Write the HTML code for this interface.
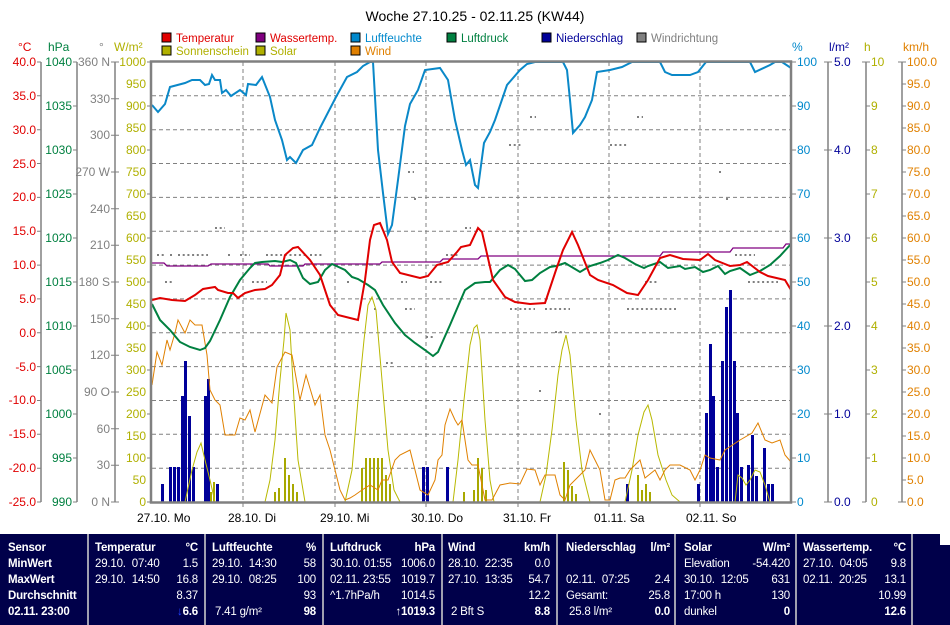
<!DOCTYPE html>
<html><head><meta charset="utf-8"><style>
html,body{margin:0;padding:0;background:#fff;}
svg{display:block;font-family:"Liberation Sans",sans-serif;}
.p{position:absolute;top:534px;left:0;width:940px;height:91px;background:#00004a;}
.p2{position:absolute;top:545px;left:940px;width:10px;height:80px;background:#00004a;}
.c{position:absolute;top:534px;height:91px;border-left:2px solid #a0a0b0;}
.t{position:absolute;color:#fff;font:11.5px "Liberation Sans",sans-serif;line-height:16px;white-space:pre;letter-spacing:-0.2px;}
.b{font-weight:bold;}
</style></head><body>
<div style="position:relative;width:950px;height:625px;overflow:hidden;">
<svg width="950" height="534" viewBox="0 0 950 534">
<text x="475" y="21" font-size="14" text-anchor="middle" fill="#000">Woche 27.10.25 - 02.11.25 (KW44)</text>
<g font-size="11.5">
<rect x="162" y="33" width="9" height="9" fill="#e00000" stroke="#000"/><text x="176" y="42" fill="#e00000">Temperatur</text>
<rect x="256" y="33" width="9" height="9" fill="#800080" stroke="#000"/><text x="270" y="42" fill="#e00000">Wassertemp.</text>
<rect x="351" y="33" width="9" height="9" fill="#0088cc" stroke="#000"/><text x="365" y="42" fill="#0088cc">Luftfeuchte</text>
<rect x="447" y="33" width="9" height="9" fill="#008040" stroke="#000"/><text x="461" y="42" fill="#008040">Luftdruck</text>
<rect x="542" y="33" width="9" height="9" fill="#000099" stroke="#000"/><text x="556" y="42" fill="#000099">Niederschlag</text>
<rect x="637" y="33" width="9" height="9" fill="#808080" stroke="#000"/><text x="651" y="42" fill="#808080">Windrichtung</text>
<rect x="162" y="46" width="9" height="9" fill="#b0b000" stroke="#000"/><text x="176" y="55" fill="#b0b000">Sonnenschein</text>
<rect x="256" y="46" width="9" height="9" fill="#b0b000" stroke="#000"/><text x="270" y="55" fill="#b0b000">Solar</text>
<rect x="351" y="46" width="9" height="9" fill="#e08000" stroke="#000"/><text x="365" y="55" fill="#e08000">Wind</text>
</g>
<g font-size="12">
<text x="18" y="51" fill="#e00000">°C</text><text x="48" y="51" fill="#008040">hPa</text><text x="99" y="51" fill="#808080">°</text><text x="114" y="51" fill="#b0b000">W/m²</text>
<text x="792" y="51" fill="#0088cc">%</text><text x="829" y="51" fill="#000099">l/m²</text><text x="864" y="51" fill="#b0b000">h</text><text x="903" y="51" fill="#e08000">km/h</text>
</g>
<g stroke="#808080" stroke-width="1.5">
<line x1="41" y1="62" x2="41" y2="502"/><line x1="77" y1="62" x2="77" y2="502"/><line x1="115" y1="62" x2="115" y2="502"/>
<line x1="828" y1="62" x2="828" y2="502"/><line x1="866" y1="62" x2="866" y2="502"/><line x1="902" y1="62" x2="902" y2="502"/>
</g>
<g font-size="12" text-anchor="end" fill="#e00000">
<text x="36" y="66">40.0</text><text x="36" y="100">35.0</text><text x="36" y="134">30.0</text><text x="36" y="168">25.0</text><text x="36" y="201">20.0</text><text x="36" y="235">15.0</text><text x="36" y="269">10.0</text><text x="36" y="303">5.0</text><text x="36" y="337">0.0</text><text x="36" y="371">-5.0</text><text x="36" y="404">-10.0</text><text x="36" y="438">-15.0</text><text x="36" y="472">-20.0</text><text x="36" y="506">-25.0</text>
</g>
<g font-size="12" text-anchor="end" fill="#008040">
<text x="72" y="66">1040</text><text x="72" y="110">1035</text><text x="72" y="154">1030</text><text x="72" y="198">1025</text><text x="72" y="242">1020</text><text x="72" y="286">1015</text><text x="72" y="330">1010</text><text x="72" y="374">1005</text><text x="72" y="418">1000</text><text x="72" y="462">995</text><text x="72" y="506">990</text>
</g>
<g font-size="12" text-anchor="end" fill="#808080">
<text x="110" y="66">360 N</text><text x="110" y="103">330</text><text x="110" y="139">300</text><text x="110" y="176">270 W</text><text x="110" y="213">240</text><text x="110" y="249">210</text><text x="110" y="286">180 S</text><text x="110" y="323">150</text><text x="110" y="359">120</text><text x="110" y="396">90 O</text><text x="110" y="433">60</text><text x="110" y="469">30</text><text x="110" y="506">0 N</text>
</g>
<g font-size="12" text-anchor="end" fill="#b0b000">
<text x="146" y="66">1000</text><text x="146" y="88">950</text><text x="146" y="110">900</text><text x="146" y="132">850</text><text x="146" y="154">800</text><text x="146" y="176">750</text><text x="146" y="198">700</text><text x="146" y="220">650</text><text x="146" y="242">600</text><text x="146" y="264">550</text><text x="146" y="286">500</text><text x="146" y="308">450</text><text x="146" y="330">400</text><text x="146" y="352">350</text><text x="146" y="374">300</text><text x="146" y="396">250</text><text x="146" y="418">200</text><text x="146" y="440">150</text><text x="146" y="462">100</text><text x="146" y="484">50</text><text x="146" y="506">0</text>
</g>
<g font-size="12" fill="#0088cc">
<text x="797" y="66">100</text><text x="797" y="110">90</text><text x="797" y="154">80</text><text x="797" y="198">70</text><text x="797" y="242">60</text><text x="797" y="286">50</text><text x="797" y="330">40</text><text x="797" y="374">30</text><text x="797" y="418">20</text><text x="797" y="462">10</text><text x="797" y="506">0</text>
</g>
<g font-size="12" fill="#000099">
<text x="834" y="66">5.0</text><text x="834" y="154">4.0</text><text x="834" y="242">3.0</text><text x="834" y="330">2.0</text><text x="834" y="418">1.0</text><text x="834" y="506">0.0</text>
</g>
<g font-size="12" fill="#b0b000">
<text x="871" y="66">10</text><text x="871" y="110">9</text><text x="871" y="154">8</text><text x="871" y="198">7</text><text x="871" y="242">6</text><text x="871" y="286">5</text><text x="871" y="330">4</text><text x="871" y="374">3</text><text x="871" y="418">2</text><text x="871" y="462">1</text><text x="871" y="506">0</text>
</g>
<g font-size="12" fill="#e08000">
<text x="907" y="66">100.0</text><text x="907" y="88">95.0</text><text x="907" y="110">90.0</text><text x="907" y="132">85.0</text><text x="907" y="154">80.0</text><text x="907" y="176">75.0</text><text x="907" y="198">70.0</text><text x="907" y="220">65.0</text><text x="907" y="242">60.0</text><text x="907" y="264">55.0</text><text x="907" y="286">50.0</text><text x="907" y="308">45.0</text><text x="907" y="330">40.0</text><text x="907" y="352">35.0</text><text x="907" y="374">30.0</text><text x="907" y="396">25.0</text><text x="907" y="418">20.0</text><text x="907" y="440">15.0</text><text x="907" y="462">10.0</text><text x="907" y="484">5.0</text><text x="907" y="506">0.0</text>
</g>
<g stroke-width="1">
<path stroke="#808080" d="M37 62h4M37 95.8h4M37 129.7h4M37 163.5h4M37 197.4h4M37 231.2h4M37 265.1h4M37 298.9h4M37 332.8h4M37 366.6h4M37 400.5h4M37 434.3h4M37 468.2h4M37 502h4
M73 62h4M73 106h4M73 150h4M73 194h4M73 238h4M73 282h4M73 326h4M73 370h4M73 414h4M73 458h4M73 502h4
M111 62h8M111 98.7h8M111 135.3h8M111 172h8M111 208.7h8M111 245.3h8M111 282h8M111 318.7h8M111 355.3h8M111 392h8M111 428.7h8M111 465.3h8M111 502h8
M147 62h4M147 106h4M147 150h4M147 194h4M147 238h4M147 282h4M147 326h4M147 370h4M147 414h4M147 458h4M147 502h4
M791 62h5M791 106h5M791 150h5M791 194h5M791 238h5M791 282h5M791 326h5M791 370h5M791 414h5M791 458h5M791 502h5
M824 62h8M824 150h8M824 238h8M824 326h8M824 414h8M824 502h8
M862 62h8M866 106h4M866 150h4M866 194h4M866 238h4M866 282h4M866 326h4M866 370h4M866 414h4M866 458h4M862 502h4
M898 62h8M902 84h4M902 106h4M902 128h4M902 150h4M902 172h4M902 194h4M902 216h4M902 238h4M902 260h4M902 282h4M902 304h4M902 326h4M902 348h4M902 370h4M902 392h4M902 414h4M902 436h4M902 458h4M902 480h4M898 502h8"/>
</g>
<g stroke="#808080" stroke-width="1" stroke-dasharray="4,3">
<path d="M152 95.8H791M152 129.7H791M152 163.5H791M152 197.4H791M152 231.2H791M152 265.1H791M152 298.9H791M152 332.8H791M152 366.6H791M152 400.5H791M152 434.3H791M152 468.2H791"/>
<path d="M243 62V510M335 62V510M426 62V510M518 62V510M609 62V510M700 62V510"/>
</g>
<!-- wind direction dots -->
<g stroke="#808080" stroke-width="2" stroke-dasharray="2,2.7">
<path d="M157 255h8M170 255h2M178 255h30M228 255h4M240 255h10M266 255h40M310 255h12M215 228h10M165 282h8M252 282h15M347 282h3M401 282h6M430 282h12M446 255h14M405 309h10M426 337h8M386 363h8M374 309h3M408 172h6M465 228h6M414 199h3M509 145h14M530 117h6M510 309h25M545 309h25M610 145h18M637 117h6M627 309h50M645 282h12M748 282h30M719 172h3M726 199h3M735 255h20M555 332h10M599 414h3M539 391h3"/>
</g>
<g fill="#000099">
<rect x="161" y="484" width="3" height="18"/><rect x="169" y="467" width="3" height="35"/><rect x="173" y="467" width="3" height="35"/><rect x="177" y="467" width="3" height="35"/><rect x="181" y="396" width="3" height="106"/><rect x="184" y="361" width="3" height="141"/><rect x="188" y="416" width="3" height="86"/><rect x="192" y="467" width="3" height="35"/><rect x="204" y="396" width="3" height="106"/><rect x="207" y="379" width="3" height="123"/><rect x="216" y="484" width="3" height="18"/>
<rect x="422" y="467" width="3" height="35"/><rect x="426" y="467" width="3" height="35"/><rect x="446" y="467" width="3" height="35"/>
<rect x="626" y="484" width="3" height="18"/>
<rect x="697" y="484" width="3" height="18"/><rect x="705" y="413" width="3" height="89"/><rect x="709" y="344" width="3" height="158"/><rect x="712" y="396" width="3" height="106"/><rect x="716" y="467" width="3" height="35"/><rect x="721" y="361" width="3" height="141"/><rect x="725" y="307" width="3" height="195"/><rect x="729" y="290" width="3" height="212"/><rect x="733" y="361" width="3" height="141"/><rect x="736" y="413" width="3" height="89"/><rect x="740" y="467" width="3" height="35"/><rect x="747" y="465" width="3" height="37"/><rect x="751" y="435" width="3" height="67"/><rect x="755" y="476" width="3" height="26"/><rect x="763" y="448" width="3" height="54"/><rect x="767" y="484" width="3" height="18"/><rect x="771" y="484" width="3" height="18"/>
</g>
<g fill="#a8a800">
<rect x="210" y="492" width="2" height="10"/><rect x="213" y="482" width="2" height="20"/>
<rect x="274" y="492" width="2" height="10"/><rect x="278" y="488" width="2" height="14"/><rect x="284" y="458" width="2" height="44"/><rect x="288" y="475" width="2" height="27"/><rect x="292" y="484" width="2" height="18"/><rect x="296" y="492" width="2" height="10"/>
<rect x="365" y="458" width="2" height="44"/><rect x="369" y="458" width="2" height="44"/><rect x="373" y="458" width="2" height="44"/><rect x="377" y="458" width="2" height="44"/><rect x="381" y="458" width="2" height="44"/><rect x="385" y="475" width="2" height="27"/><rect x="389" y="484" width="2" height="18"/><rect x="361" y="468" width="2" height="34"/>
<rect x="463" y="492" width="2" height="10"/><rect x="473" y="490" width="2" height="12"/><rect x="477" y="458" width="2" height="44"/><rect x="481" y="468" width="2" height="34"/><rect x="485" y="490" width="2" height="12"/>
<rect x="563" y="462" width="2" height="40"/><rect x="567" y="470" width="2" height="32"/><rect x="571" y="486" width="2" height="16"/><rect x="575" y="494" width="2" height="8"/>
<rect x="637" y="475" width="2" height="27"/><rect x="641" y="490" width="2" height="12"/><rect x="645" y="484" width="2" height="18"/><rect x="649" y="492" width="2" height="10"/>
</g>
<polyline fill="none" stroke="#b8b800" stroke-width="1" points="152,502 185,502 192,470 197,452 201,443 205,460 210,480 215,502 265,502 270,480 275,440 280,380 284,340 286,313 290,330 294,400 298,460 305,502 345,502 352,470 358,400 364,340 368,305 372,297 376,310 382,380 388,450 394,490 400,502 453,502 458,460 464,400 470,345 474,328 477,325 480,340 485,420 490,480 494,502 540,502 546,475 552,430 558,375 562,350 566,335 570,355 576,420 582,470 590,502 625,502 632,470 638,435 644,412 648,405 652,420 658,455 666,480 672,495 680,502 735,502 738,475 742,478 746,485 750,480 755,470 760,472 765,485 770,502 791,502"/>
<polyline fill="none" stroke="#e08000" stroke-width="1" points="152,385 157,352 162,365 167,340 170,350 175,333 178,320 185,333 190,320 195,325 202,325 207,355 210,390 215,400 220,405 225,435 235,435 240,418 245,420 250,410 255,432 265,395 272,403 277,367 285,352 292,355 300,400 306,375 315,405 320,395 325,435 330,450 335,470 340,490 345,500 350,498 355,495 362,490 370,485 378,490 382,480 388,480 395,460 400,455 410,450 420,490 428,495 435,480 438,460 442,455 445,425 450,409 455,420 458,425 462,420 468,460 472,465 478,465 485,500 492,500 500,485 510,483 520,484 527,469 535,470 540,485 545,475 555,475 560,495 565,500 570,485 575,480 585,470 590,450 595,460 600,470 605,500 610,500 615,480 620,478 625,478 630,470 640,460 645,478 655,470 660,480 665,470 670,465 680,465 690,470 695,480 700,470 705,455 710,458 720,460 725,450 740,440 752,433 758,423 765,440 772,443 780,440 785,455 791,462"/>
<polyline fill="none" stroke="#800080" stroke-width="1.3" points="152,263 164,263 167,266 208,266 211,264 268,264 270,266 303,266 305,264 380,264 382,262 440,262 443,259 478,259 481,256 660,256 663,252 730,252 733,248 783,248 786,244 791,244"/>
<polyline fill="none" stroke="#008040" stroke-width="2" points="152,304 160,320 170,330 180,342 190,347 200,350 205,348 210,341 220,320 230,297 240,280 250,268 255,263 262,262 275,261 282,262 290,260 296,263 303,278 310,284 318,282 325,270 332,264 345,270 352,277 358,279 368,285 375,290 383,305 395,323 405,335 415,343 425,350 433,356 438,352 450,325 465,290 475,283 485,282 490,282 500,270 508,265 515,269 525,281 532,280 540,273 550,267 556,266 565,263 580,272 590,266 600,263 608,260 618,255 625,258 635,264 644,268 648,266 660,262 668,268 680,266 685,269 695,267 703,272 710,270 718,266 725,274 730,271 740,268 750,275 760,271 770,265 780,256 791,244"/>
<polyline fill="none" stroke="#e00000" stroke-width="2" points="152,300 160,298 172,300 185,301 195,295 203,289 215,287 218,290 228,293 233,293 238,298 245,293 255,290 265,289 272,285 280,275 285,255 293,248 298,247 310,260 320,275 330,305 338,315 350,318 358,320 365,280 370,240 374,225 380,223 387,240 392,262 400,273 412,276 420,278 428,276 437,265 448,262 457,252 461,247 470,245 478,228 482,232 493,280 505,297 515,302 530,304 545,303 556,270 563,250 572,232 578,245 590,275 598,280 613,285 627,293 638,295 648,280 660,258 670,255 683,259 700,260 708,254 715,260 730,266 740,265 747,262 760,272 768,276 785,280 791,290"/>
<polyline fill="none" stroke="#0a88c8" stroke-width="2" points="152,105 158,112 165,104 170,87 185,83 192,80 200,80 205,85 209,84 212,75 215,80 220,80 222,93 226,90 231,96 240,90 246,95 248,84 256,85 262,77 270,97 275,120 282,140 287,160 290,157 296,163 303,150 312,145 320,128 336,97 347,77 357,72 363,66 370,62 373,62 378,150 383,193 388,234 392,225 398,180 405,126 410,104 418,90 425,70 440,68 448,80 455,120 462,150 466,165 470,160 475,185 478,188 484,143 490,132 495,120 507,85 520,70 527,64 535,62 563,62 567,70 570,100 573,133 580,125 585,117 592,100 597,72 610,70 622,67 632,62 660,62 665,72 672,75 690,75 698,72 706,62 750,62 755,72 770,65 775,62 782,62 791,68"/>
<line x1="152" y1="502" x2="791" y2="502" stroke="#000099" stroke-width="1" stroke-dasharray="1,2"/>
<rect x="151" y="61.5" width="640" height="441" fill="none" stroke="#808080" stroke-width="2.5"/>
<g font-size="12" fill="#000">
<text x="137" y="522">27.10.  Mo</text><text x="228" y="522">28.10.  Di</text><text x="320" y="522">29.10.  Mi</text><text x="411" y="522">30.10.  Do</text><text x="503" y="522">31.10.  Fr</text><text x="594" y="522">01.11.  Sa</text><text x="686" y="522">02.11.  So</text>
</g>
</svg>
<div class="p"></div><div class="p2"></div>
<div class="c" style="left:87px"></div><div class="c" style="left:204px"></div><div class="c" style="left:322px"></div><div class="c" style="left:441px"></div><div class="c" style="left:556px"></div><div class="c" style="left:674px"></div><div class="c" style="left:795px"></div><div class="c" style="left:911px"></div>
<div class="t b" style="left:8px;top:540px">Sensor
MinWert
MaxWert
Durchschnitt
02.11. 23:00</div>
<div class="t" style="left:95px;top:540px"><b>Temperatur</b>
29.10.  07:40
29.10.  14:50

</div>
<div class="t" style="left:160px;top:540px;width:38px;text-align:right"><b>°C</b>
1.5
16.8
8.37
<b><span style="color:#2040ff">↓</span>6.6</b></div>
<div class="t" style="left:212px;top:540px"><b>Luftfeuchte</b>
29.10.  14:30
29.10.  08:25

 7.41 g/m²</div>
<div class="t" style="left:280px;top:540px;width:36px;text-align:right"><b>%</b>
58
100
93
<b>98</b></div>
<div class="t" style="left:330px;top:540px"><b>Luftdruck</b>
30.10. 01:55
02.11. 23:55
^1.7hPa/h</div>
<div class="t" style="left:390px;top:540px;width:45px;text-align:right"><b>hPa</b>
1006.0
1019.7
1014.5
<b>↑1019.3</b></div>
<div class="t" style="left:448px;top:540px"><b>Wind</b>
28.10.  22:35
27.10.  13:35

 2 Bft S</div>
<div class="t" style="left:510px;top:540px;width:40px;text-align:right"><b>km/h</b>
0.0
54.7
12.2
<b>8.8</b></div>
<div class="t" style="left:566px;top:540px"><b>Niederschlag</b>

02.11.  07:25
Gesamt:
 25.8 l/m²</div>
<div class="t" style="left:640px;top:540px;width:30px;text-align:right"><b>l/m²</b>

2.4
25.8
<b>0.0</b></div>
<div class="t" style="left:684px;top:540px"><b>Solar</b>
Elevation
30.10.  12:05
17:00 h
dunkel</div>
<div class="t" style="left:740px;top:540px;width:50px;text-align:right"><b>W/m²</b>
-54.420
631
130
<b>0</b></div>
<div class="t" style="left:803px;top:540px"><b>Wassertemp.</b>
27.10.  04:05
02.11.  20:25</div>
<div class="t" style="left:866px;top:540px;width:40px;text-align:right"><b>°C</b>
9.8
13.1
10.99
<b>12.6</b></div>
</div>
</body></html>
